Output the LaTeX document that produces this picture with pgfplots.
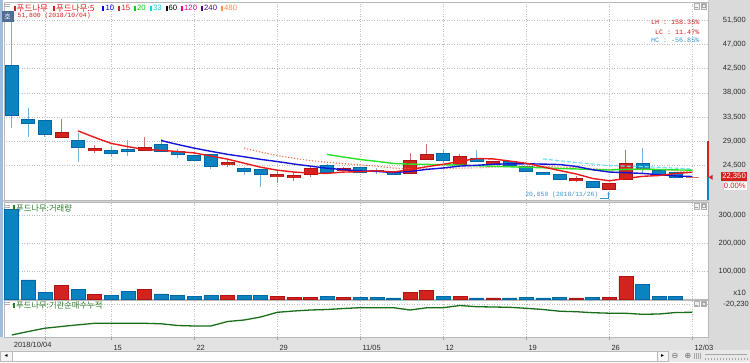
\documentclass[border=0pt]{standalone}
\usepackage{pgfplots}
\pgfplotsset{compat=1.18}
\usepackage{pgfplotstable}
\usetikzlibrary{arrows.meta}
\usepackage{fontspec}
\setmainfont{Liberation Sans}
\newfontfamily\kr{Noto Sans CJK KR}
\newfontfamily\mono{Liberation Mono}
\newfontfamily\dv{DejaVu Sans}

\definecolor{lred}{RGB}{215,30,30}
\definecolor{lblue}{RGB}{0,0,255}
\definecolor{lgreen}{RGB}{0,210,0}
\definecolor{lcyan}{RGB}{0,215,245}
\definecolor{lmag}{RGB}{230,0,140}
\definecolor{lnavy}{RGB}{70,10,140}
\definecolor{lorange}{RGB}{255,140,80}
\definecolor{hgreen}{RGB}{40,125,40}
\definecolor{cblue}{RGB}{10,132,192}
\definecolor{cblueb}{RGB}{0,105,165}
\definecolor{cbluew}{RGB}{110,180,220}
\definecolor{cred}{RGB}{210,35,30}
\definecolor{credb}{RGB}{175,20,20}
\definecolor{credw}{RGB}{215,110,110}
\definecolor{ma5}{RGB}{235,25,25}
\definecolor{ma10}{RGB}{20,20,215}
\definecolor{ma15}{RGB}{250,110,70}
\definecolor{ma20}{RGB}{40,225,40}
\definecolor{ma33}{RGB}{110,225,250}
\definecolor{inst}{RGB}{25,110,25}
\definecolor{gridc}{RGB}{190,190,190}
\definecolor{stripc}{RGB}{218,218,218}
\definecolor{datec}{RGB}{226,226,226}
\definecolor{leftc}{RGB}{160,190,220}
\definecolor{tickc}{RGB}{45,45,45}
\definecolor{sepc}{RGB}{212,212,212}
\definecolor{annb}{RGB}{60,150,210}
\definecolor{hob}{RGB}{80,110,150}

\newcommand\instlabel{-20,230}

% i open high low close
\pgfplotstableread{
i o h l c
0 43150 51800 31450 33750
1 33100 35250 29850 32350
2 32800 32800 29850 30200
4 29100 30600 25150 27850
6 27400 28150 26300 26800
7 27550 29250 26300 27200
9 28450 29400 27000 27200
10 27100 27550 25850 26500
11 26300 26300 25550 25550
12 26500 26500 23900 24300
14 24000 24300 22800 23400
15 23850 23850 20600 22800
19 24500 24800 23200 23200
21 24150 24150 23200 23200
22 23700 24150 22900 23400
23 23500 23500 22800 22800
26 26800 27600 24950 25450
28 25850 27400 25350 25350
30 25250 25250 24600 24600
31 24400 24500 23400 23400
32 23300 23300 22800 22800
33 22800 22800 22000 22000
35 21550 21550 20400 20400
38 24950 27700 23200 24000
39 23700 23700 22800 22800
40 23200 23200 22350 22350
}\bluec
\pgfplotstableread{
i o h l c
3 29750 33150 29750 30600
5 27300 28350 26900 27700
8 27400 29750 27200 27900
13 24650 25700 24300 25050
16 22450 23700 21250 22800
17 22300 23400 21700 22600
18 22800 24300 22350 24000
20 23550 24300 23550 24000
24 23100 26800 22900 25550
25 25700 28500 25700 26600
27 24650 26600 24650 26150
29 24850 25250 24850 25250
34 21750 22500 21500 22050
36 20050 21250 20050 21250
37 22000 27400 22000 24950
}\redc
\pgfplotstableread{
i m5 m10 m15 m20 m33
0 nan nan nan nan nan
1 nan nan nan nan nan
2 nan nan nan nan nan
3 nan nan nan nan nan
4 30950 nan nan nan nan
5 29740 nan nan nan nan
6 28630 nan nan nan nan
7 28030 nan nan nan nan
8 27490 nan nan nan nan
9 27360 29155 nan nan nan
10 27120 28430 nan nan nan
11 26870 27750 nan nan nan
12 26290 27160 nan nan nan
13 25720 26605 nan nan nan
14 24960 26160 27757 nan nan
15 24220 25670 27027 nan nan
16 23670 25270 26390 nan nan
17 23330 24810 25883 nan nan
18 23120 24420 25443 nan nan
19 23080 24020 25133 26588 nan
20 23320 23770 24887 26100 nan
21 23400 23535 24647 25643 nan
22 23560 23445 24393 25303 nan
23 23320 23220 24053 24913 nan
24 23790 23435 23943 24798 nan
25 24310 23815 23950 24743 nan
26 24760 24080 23943 24675 nan
27 25310 24435 24067 24623 nan
28 25820 24570 24087 24495 nan
29 25760 24775 24210 24398 nan
30 25360 24835 24330 24303 nan
31 24950 24855 24370 24195 nan
32 24280 24795 24383 24120 25767
33 23610 24715 24250 23968 25411
34 22970 24365 24173 23900 25098
35 22130 23745 23933 23780 24802
36 21700 23325 23803 23703 24518
37 22130 23205 23907 23820 24430
38 22530 23070 23987 23820 24318
39 22680 22825 23803 23800 24197
40 23070 22600 23520 23718 24050
41 23290 22495 23313 23675 23882
}\matab
\pgfplotstableread{
i v
0 321000
1 68000
2 24000
4 34600
6 11800
7 26000
9 17900
10 11800
11 8200
12 11800
14 14000
15 11800
19 8200
21 6000
22 6000
23 3600
26 10700
28 3600
30 3600
31 6000
32 3600
33 6000
35 6000
38 52500
39 10700
40 8200
}\volb
\pgfplotstableread{
i v
3 47500
5 16800
8 34600
13 14000
16 8200
17 6000
18 6000
20 6000
24 22500
25 29600
27 9600
29 3600
34 3600
36 6000
37 79600
}\volr
\pgfplotstableread{
i v
0 -66280
1 -61030
2 -56080
3 -53530
4 -50980
5 -48730
6 -48730
7 -48730
8 -48730
9 -49480
10 -52030
11 -52780
12 -52780
13 -46030
14 -43780
15 -39280
16 -32230
17 -30280
18 -28780
19 -28030
20 -26530
21 -25330
22 -25330
23 -25330
24 -28780
25 -25480
26 -25330
27 -22030
28 -23830
29 -24280
30 -24730
31 -26230
32 -28030
33 -30580
34 -31330
35 -32830
36 -33580
37 -33730
38 -35230
39 -34780
40 -32530
41 -32230
}\insttab

\pgfplotsset{
  panel/.style={
    scale only axis, width=704pt, anchor=south west,
    xmin=-0.4639, xmax=41.946,
    scaled x ticks=false, scaled y ticks=false,
    axis line style={draw=gray!55, line width=0.6pt},
    xtick={2,6,11,16,21,26,31,36,41}, xticklabels={},
    xmajorgrids, ymajorgrids,
    grid style={draw=gridc, dash pattern=on 1pt off 1.5pt, line width=0.5pt},
    major tick length=0pt,
    yticklabel pos=right,
    yticklabel style={anchor=east, inner sep=0pt, xshift=38pt,
      font=\fontsize{7.5}{8}\selectfont, text=tickc},
    /pgf/number format/assume math mode=true,
  },
  wick/.style={draw=none, mark=none, forget plot,
    error bars/.cd, y dir=both, y explicit, error mark=none,
    error bar style={draw=#1, line width=1pt, solid}},
  body/.style 2 args={draw=none, mark=none, forget plot,
    error bars/.cd, y dir=both, y explicit, error mark=none,
    error bar style={draw=#1, line width=#2, solid}},
}

\begin{document}
\begin{tikzpicture}[x=1pt,y=1pt]
\fill[white] (0,0) rectangle (750,362);
\fill[stripc] (708,12) rectangle (750,362);
\fill[datec] (0,12) rectangle (708,25);
\fill[sepc] (2.5,160) rectangle (708,162);
\fill[sepc] (2.5,62) rectangle (708,63);
\fill[leftc] (0,25) rectangle (2.5,362);

% ---------------- price panel
\begin{axis}[panel, at={(4pt,162pt)}, height=198pt,
  ymin=18144, ymax=54833, clip=false,
  ytick={24500,29000,33500,38000,42500,47000,51500},
  yticklabels={{24,500},{29,000},{33,500},{38,000},{42,500},{47,000},{51,500}}]
\addplot[wick=cbluew] table[x=i, y expr={(\thisrow{h}+\thisrow{l})/2}, y error expr={(\thisrow{h}-\thisrow{l})/2}] {\bluec};
\addplot[wick=credw] table[x=i, y expr={(\thisrow{h}+\thisrow{l})/2}, y error expr={(\thisrow{h}-\thisrow{l})/2}] {\redc};
\addplot[body={cblueb}{14pt}] table[x=i, y expr={(\thisrow{o}+\thisrow{c})/2}, y error expr={abs(\thisrow{o}-\thisrow{c})/2+90}] {\bluec};
\addplot[body={cblue}{12pt}] table[x=i, y expr={(\thisrow{o}+\thisrow{c})/2}, y error expr={max(abs(\thisrow{o}-\thisrow{c})/2-90,0)}] {\bluec};
\addplot[body={credb}{14pt}] table[x=i, y expr={(\thisrow{o}+\thisrow{c})/2}, y error expr={abs(\thisrow{o}-\thisrow{c})/2+90}] {\redc};
\addplot[body={cred}{12pt}] table[x=i, y expr={(\thisrow{o}+\thisrow{c})/2}, y error expr={max(abs(\thisrow{o}-\thisrow{c})/2-90,0)}] {\redc};
\addplot[only marks, mark=-, mark size=6.5pt, mark options={draw=credw, line width=1pt}] coordinates {(41,22350)};
% moving averages
\addplot[ma15, line width=1.1pt, dash pattern=on 1.2pt off 1.8pt] table[x=i,y=m15] {\matab};
\addplot[ma33, line width=1.2pt, dash pattern=on 4pt off 2pt] table[x=i,y=m33] {\matab};
\addplot[ma20, line width=1.4pt] table[x=i,y=m20] {\matab};
\addplot[ma10, line width=1.4pt] table[x=i,y=m10] {\matab};
\addplot[ma5, line width=1.4pt] table[x=i,y=m5] {\matab};
% annotations
\node[anchor=west, inner sep=0pt, text=lred, font=\mono\fontsize{6.4}{7}\selectfont] at (axis cs:0.35,52333) {51,800 (2018/10/04)};
\node[anchor=east, inner sep=0pt, text=annb, font=\mono\fontsize{6.4}{7}\selectfont] at (axis cs:35.35,19071) {20,050 (2018/11/26)};
\draw[annb, line width=0.8pt, -{Latex[length=2.5pt,width=2.5pt]}] (axis cs:35.45,18500) -- (axis cs:35.95,18500) -- (axis cs:35.95,19700);
% right price indicator
\draw[cred, line width=2.6pt] (axis cs:41.946,29000) -- (axis cs:41.946,22450);
\draw[cblue, line width=2.6pt] (axis cs:41.946,22450) -- (axis cs:41.946,18144);
\fill[cred, shift={(axis cs:41.99,22350)}] (0pt,0pt) -- (4pt,2.6pt) -- (4pt,-2.6pt) -- cycle;
\end{axis}

% ---------------- volume panel
\begin{axis}[panel, at={(4pt,63pt)}, height=97pt,
  ymin=0, ymax=346430,
  ytick={100000,200000,300000},
  yticklabels={{100,000},{200,000},{300,000}}]
\addplot[ybar, bar width=14pt, bar shift=0pt, fill=cblue, draw=cblueb, line width=0.6pt] table[x=i,y=v] {\volb};
\addplot[ybar, bar width=14pt, bar shift=0pt, fill=cred, draw=credb, line width=0.6pt] table[x=i,y=v] {\volr};
\end{axis}

% ---------------- institutional cumulative panel
\begin{axis}[panel, at={(4pt,25pt)}, height=37pt,
  ymin=-69280, ymax=-13780,
  ytick={-20230}, yticklabels={\instlabel},
  xticklabels={{},15,22,29,11/05,12,19,26,12/03},
  extra x ticks={0}, extra x tick labels={2018/10/04},
  extra x tick style={grid=none, major tick length=0pt},
  xtick pos=left, tick align=outside, major tick length=3pt,
  xtick style={draw=gray!75, line width=0.6pt}, ytick style={draw=none},
  xticklabel style={anchor=north west, inner sep=0pt, xshift=2pt, yshift=-4.5pt,
    text height=5.4pt, text depth=1.5pt,
    font=\fontsize{7.5}{8}\selectfont, text=tickc}]
\addplot[inst, line width=1.3pt] table[x=i,y=v] {\insttab};
\end{axis}

% ---------------- headers and decorations
\begin{scope}[font=\fontsize{7.7}{8}\selectfont]
\draw[gray!60, line width=0.8pt] (4,357.5) -- (10,357.5) (4,355.5) -- (10,355.5);
\fill[lred] (13.5,351) rectangle (15.5,356);
\node[anchor=west, inner sep=0pt, text=lred, font=\kr\fontsize{8.5}{9}\selectfont] at (16.5,353.7) {푸드나무};
\fill[lred] (53,351) rectangle (55,356);
\node[anchor=west, inner sep=0pt, text=lred, font=\kr\fontsize{8.5}{9}\selectfont] at (56,353.7) {푸드나무:5};
\fill[lblue] (101.7,351) rectangle (103.7,356);
\node[anchor=west, inner sep=0pt, text=lblue] at (105.5,353.7) {10};
\fill[lred] (118,351) rectangle (120,356);
\node[anchor=west, inner sep=0pt, text=lred] at (121.5,353.7) {15};
\fill[lgreen] (134,351) rectangle (136,356);
\node[anchor=west, inner sep=0pt, text=lgreen] at (137,353.7) {20};
\fill[lcyan] (150,351) rectangle (152,356);
\node[anchor=west, inner sep=0pt, text=lcyan] at (153,353.7) {33};
\fill[black] (165.7,351) rectangle (167.7,356);
\node[anchor=west, inner sep=0pt, text=black] at (168.5,353.7) {60};
\fill[lmag] (181,351) rectangle (183,356);
\node[anchor=west, inner sep=0pt, text=lmag] at (184,353.7) {120};
\fill[lnavy] (200.7,351) rectangle (202.7,356);
\node[anchor=west, inner sep=0pt, text=lnavy] at (204,353.7) {240};
\fill[lorange] (220.7,351) rectangle (222.7,356);
\node[anchor=west, inner sep=0pt, text=lorange] at (224,353.7) {480};
% ho box
\fill[hob] (1.5,339.5) rectangle (13.5,350.5);
\node[text=white, inner sep=0pt, font=\kr\fontsize{7}{7}\selectfont] at (7.5,345) {호};
% volume header
\draw[gray!60, line width=0.8pt] (4,157) -- (10,157) (4,155) -- (10,155);
\fill[hgreen] (13,151.5) rectangle (15,156.5);
\node[anchor=west, inner sep=0pt, text=hgreen, font=\kr\fontsize{8.3}{9}\selectfont] at (16,153.8) {푸드나무:거래량};
% institutional header
\draw[gray!60, line width=0.8pt] (4,60) -- (10,60) (4,58) -- (10,58);
\fill[hgreen] (13,54.5) rectangle (15,59.5);
\node[anchor=west, inner sep=0pt, text=hgreen, font=\kr\fontsize{8.3}{9}\selectfont] at (16,57) {푸드나무:기관순매수누적};
% min/max buttons
\foreach \yy in {353,153,55.5}{
  \draw[gray!60, fill=gray!12, line width=0.4pt] (694,\yy) rectangle ++(5.5,5.5);
  \draw[gray!60, fill=gray!12, line width=0.4pt] (701,\yy) rectangle ++(5.5,5.5);
  \draw[gray!70, line width=0.5pt] (695.3,\yy+1.6) -- ++(3,0);
  \draw[gray!70, line width=0.4pt] (702.3,\yy+1.3) rectangle ++(3,3);
}
% LH LC HC
\node[anchor=east, inner sep=0pt, text=lred, font=\mono\fontsize{6.7}{7}\selectfont] at (699.5,339.5) {LH : 158.35\%};
\node[anchor=east, inner sep=0pt, text=lred, font=\mono\fontsize{6.7}{7}\selectfont] at (699.5,330) {LC :  11.47\%};
\node[anchor=east, inner sep=0pt, text=annb, font=\mono\fontsize{6.7}{7}\selectfont] at (699.5,321.3) {HC : -56.85\%};
% current price boxes
\fill[cred] (720.5,181) rectangle (746.5,189.5);
\node[anchor=east, inner sep=0pt, text=white] at (746,185.2) {22,350};
\fill[white] (724,171.5) rectangle (746.5,180);
\node[anchor=east, inner sep=0pt, text=lred] at (746,175.7) {0.00\%};
\node[anchor=east, inner sep=0pt, text=tickc] at (746,69.3) {x10};
% scrollbar
\fill[gray!18] (0,0) rectangle (750,12);
\draw[gray!55, fill=white, line width=0.5pt] (12,1) rectangle (657,11);
\draw[gray!55, fill=gray!8, line width=0.5pt] (0.5,1) rectangle (12,11);
\node[inner sep=0pt, font=\dv\fontsize{6}{6}\selectfont] at (6.2,6) {◂};
\draw[gray!55, fill=gray!8, line width=0.5pt] (657,1) rectangle (668,11);
\node[inner sep=0pt, font=\dv\fontsize{6}{6}\selectfont] at (662.5,6) {▸};
\node[inner sep=0pt, text=gray!80!black, font=\dv\fontsize{8}{8}\selectfont] at (675,6) {⊖};
\node[inner sep=0pt, text=gray!80!black, font=\dv\fontsize{8}{8}\selectfont] at (688,6) {⊕};
\foreach \xx in {694.5,696.5,698.5,700.5}{\draw[gray!70, line width=0.5pt] (\xx,3) -- (\xx,9);}
\draw[gray!70, line width=0.6pt] (705,8) -- (747,8);
\foreach \xx in {705,708,...,747}{\draw[gray!70, line width=0.4pt] (\xx,2.5) -- (\xx,4.5);}
\end{scope}

\pgfresetboundingbox
\useasboundingbox (0,0) rectangle (750,362);
\end{tikzpicture}
\end{document}
